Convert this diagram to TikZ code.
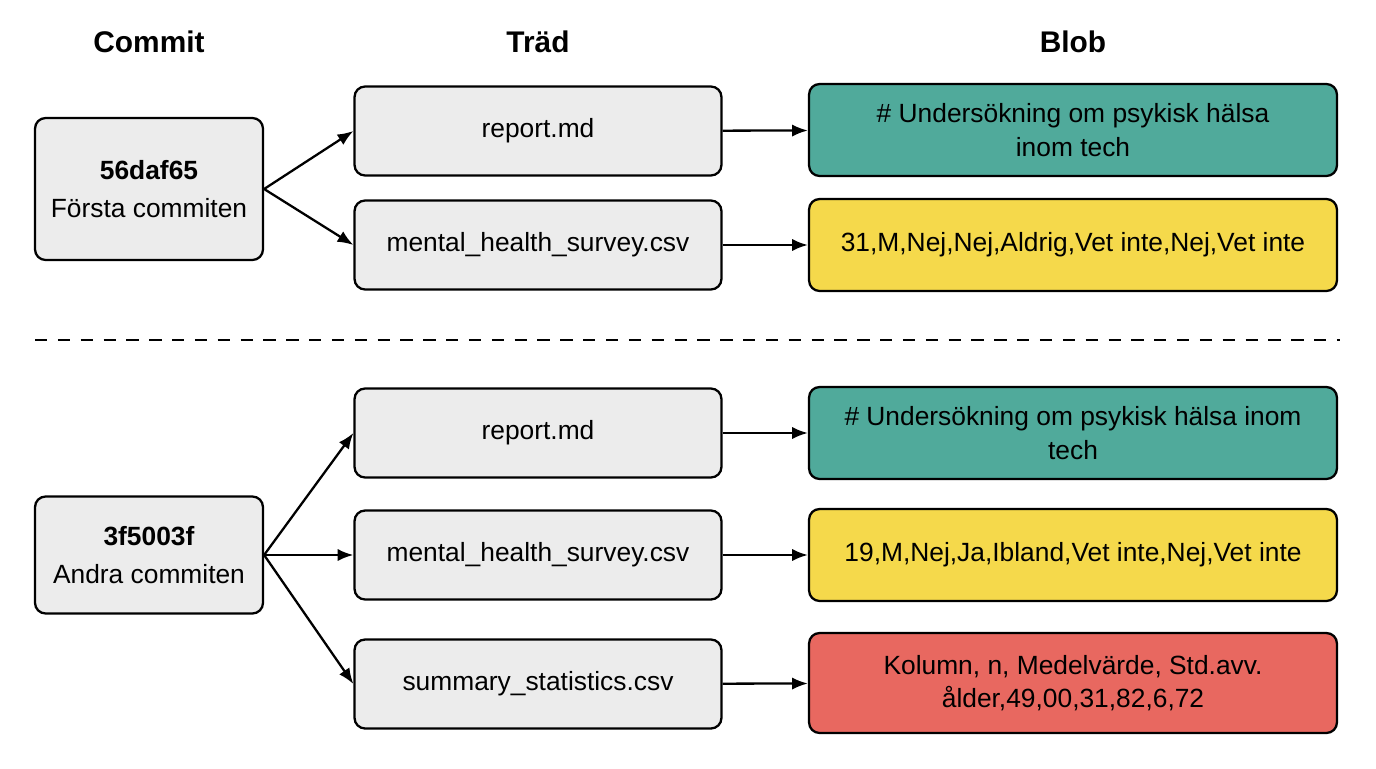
\documentclass[tikz,border=0pt]{standalone}
\usepackage{fontspec}
\setmainfont{Liberation Sans}
\usetikzlibrary{arrows.meta}
\definecolor{teal}{RGB}{80,170,155}
\definecolor{mustard}{RGB}{245,217,75}
\definecolor{salmon}{RGB}{232,104,96}
\definecolor{lightgray}{RGB}{236,236,236}
\begin{document}
\begin{tikzpicture}[x=0.02cm,y=-0.02cm,
  box/.style={draw,line width=1.3pt,rounded corners=6pt,align=center,font=\fontsize{15}{19}\selectfont,inner sep=0pt},
  commitbox/.style={box,fill=lightgray,minimum width=4.56cm},
  treebox/.style={box,fill=lightgray,minimum width=7.34cm,minimum height=1.78cm},
  blobbox/.style={box,minimum width=10.56cm,minimum height=1.84cm},
  head/.style={font=\bfseries\fontsize{17}{20}\selectfont},
  arr/.style={-{Latex[length=9pt,width=7pt]},line width=1.3pt}]
  \useasboundingbox (0,0) rectangle (1376,768);

  \node[head] (hc) at (149,42) {Commit};
  \node[head] (ht) at (538,42) {Träd};
  \node[head] (hb) at (1073,42) {Blob};

  \node[commitbox,minimum height=2.84cm] (C1) at (149,189) {\textbf{56daf65}\\[3pt]Första commiten};
  \node[treebox] (T1) at (538,131) {report.md};
  \node[treebox] (T2) at (538,245) {mental\_health\_survey.csv};
  \node[blobbox,fill=teal] (B1) at (1073,130) {\# Undersökning om psykisk hälsa\\inom tech};
  \node[blobbox,fill=mustard] (B2) at (1073,245) {31,M,Nej,Nej,Aldrig,Vet inte,Nej,Vet inte};

  \draw[arr] (C1.east) -- (T1.west);
  \draw[arr] (C1.east) -- (T2.west);
  \draw[arr] (T1) -- (B1);
  \draw[arr] (T2) -- (B2);

  \coordinate (dl) at (35,340);
  \coordinate (dr) at (1340,340);
  \draw[line width=1.3pt,dash pattern=on 7pt off 6pt] (dl) -- (dr);

  \node[commitbox,minimum height=2.34cm] (C2) at (149,555) {\textbf{3f5003f}\\[3pt]Andra commiten};
  \node[treebox] (T3) at (538,433) {report.md};
  \node[treebox] (T4) at (538,555) {mental\_health\_survey.csv};
  \node[treebox] (T5) at (538,684) {summary\_statistics.csv};
  \node[blobbox,fill=teal] (B3) at (1073,433) {\# Undersökning om psykisk hälsa inom\\tech};
  \node[blobbox,fill=mustard] (B4) at (1073,555) {19,M,Nej,Ja,Ibland,Vet inte,Nej,Vet inte};
  \node[blobbox,fill=salmon,minimum height=2cm] (B5) at (1073,683) {Kolumn, n, Medelvärde, Std.avv.\\ålder,49,00,31,82,6,72};

  \draw[arr] (C2.east) -- (T3.west);
  \draw[arr] (C2.east) -- (T4.west);
  \draw[arr] (C2.east) -- (T5.west);
  \draw[arr] (T3) -- (B3);
  \draw[arr] (T4) -- (B4);
  \draw[arr] (T5) -- (B5);
\end{tikzpicture}
\end{document}
